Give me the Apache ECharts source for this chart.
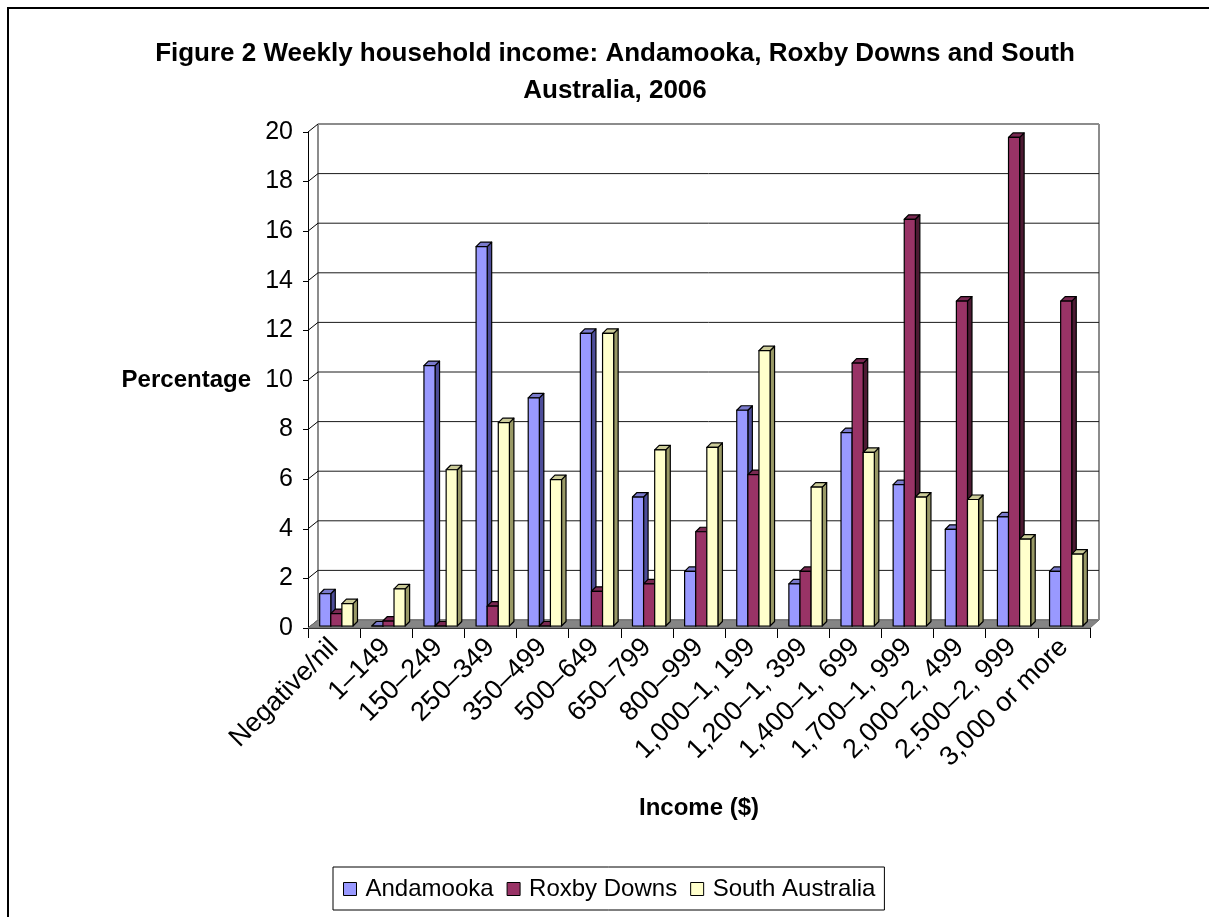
<!DOCTYPE html>
<html>
<head>
<meta charset="utf-8">
<title>Weekly household income</title>
<script src="https://cdn.jsdelivr.net/npm/echarts@6/dist/echarts.min.js"></script>
<style>
  html, body { margin: 0; padding: 0; background: #fff; }
  #chart { width: 1209px; height: 917px; }
</style>
</head>
<body>
<div id="chart"></div>
<script>
// Weekly household income bands (dollars)
const categories = ['Negative/nil', '1–149', '150–249', '250–349', '350–499', '500–649', '650–799',
  '800–999', '1,000–1, 199', '1,200–1, 399', '1,400–1, 699', '1,700–1, 999', '2,000–2, 499',
  '2,500–2, 999', '3,000 or more'];

// Share of households in each band (%)
const andamooka   = [1.3, 0.0, 10.5, 15.3, 9.2, 11.8, 5.2, 2.2, 8.7, 1.7, 7.8, 5.7, 3.9, 4.4, 2.2];
const roxbyDowns  = [0.5, 0.2, 0.0, 0.8, 0.0, 1.4, 1.7, 3.8, 6.1, 2.2, 10.6, 16.4, 13.1, 19.7, 13.1];
const southAust   = [0.9, 1.5, 6.3, 8.2, 5.9, 11.8, 7.1, 7.2, 11.1, 5.6, 7.0, 5.2, 5.1, 3.5, 2.9];

// Value axis ticks
const yTicks = [0, 2, 4, 6, 8, 10, 12, 14, 16, 18, 20];

const FONT = '"Liberation Sans", Arial, sans-serif';

// Face colours of each series: front, side, top
const palettes = [
  { name: 'Andamooka',       front: '#9999FF', side: '#4D4D99', top: '#7A7ACC' },
  { name: 'Roxby Downs',     front: '#993366', side: '#4D1A33', top: '#7A2952' },
  { name: 'South Australia', front: '#FFFFCC', side: '#999966', top: '#CCCC99' }
];
const seriesValues = [andamooka, roxbyDowns, southAust];

// Depth of the back wall relative to the front plane
const WALL_DX = 10, WALL_DY = -8;
// Depth of each column
const BAR_DX = 4.5, BAR_DY = -4.5;

function wallSeries() {
  return {
    type: 'custom',
    silent: true,
    z: 1,
    data: yTicks.map(v => [0, v]),
    encode: { x: 0, y: 1 },
    renderItem: function (params, api) {
      const cs = params.coordSys;
      const v = api.value(1);
      const y = api.coord([0, v])[1];
      const left = cs.x, right = cs.x + cs.width;
      const yTop = cs.y, yBot = cs.y + cs.height;
      const children = [];
      const isTop = v === yTicks[yTicks.length - 1];
      // back wall grid line
      children.push({
        type: 'line',
        shape: { x1: left + WALL_DX, y1: y + WALL_DY, x2: right + WALL_DX - 1, y2: y + WALL_DY },
        style: { stroke: isTop ? '#8C8C8C' : '#1A1A1A', lineWidth: isTop ? 2 : 1 }
      });
      // side wall link from the front axis to the back wall
      children.push({
        type: 'line',
        shape: { x1: left, y1: y, x2: left + WALL_DX, y2: y + WALL_DY },
        style: { stroke: '#000', lineWidth: 1 }
      });
      if (params.dataIndex === 0) {
        // floor
        children.push({
          type: 'polygon',
          shape: { points: [[left, yBot], [right, yBot], [right + WALL_DX - 1, yBot + WALL_DY], [left + WALL_DX, yBot + WALL_DY]] },
          style: { fill: '#858585', stroke: '#6E6E6E', lineWidth: 1 }
        });
        // back wall edges
        children.push({
          type: 'line',
          shape: { x1: left + WALL_DX, y1: yTop + WALL_DY, x2: left + WALL_DX, y2: yBot + WALL_DY },
          style: { stroke: '#8C8C8C', lineWidth: 2 }
        });
        children.push({
          type: 'line',
          shape: { x1: right + WALL_DX - 1, y1: yTop + WALL_DY, x2: right + WALL_DX - 1, y2: yBot + WALL_DY },
          style: { stroke: '#8C8C8C', lineWidth: 2 }
        });
      }
      return { type: 'group', children: children };
    }
  };
}

function barSeries(k) {
  const p = palettes[k];
  return {
    type: 'custom',
    name: p.name,
    z: 3,
    itemStyle: { color: p.front, borderColor: '#000', borderWidth: 1 },
    data: seriesValues[k].map((v, i) => [i, v]),
    encode: { x: 0, y: 1 },
    renderItem: function (params, api) {
      const i = api.value(0), v = api.value(1);
      const base = api.coord([i, 0]);
      const top = api.coord([i, v]);
      const band = api.size([1, 0])[0];
      const w = band * 0.213;
      const x0 = base[0] - band * 0.276 + k * w;
      const x1 = x0 + w;
      const yb = base[1] - 2, yt = top[1] - 2;
      const stroke = { stroke: '#000', lineWidth: 1.2, lineJoin: 'round' };
      return {
        type: 'group',
        children: [
          {
            type: 'polygon',
            shape: { points: [[x1, yb], [x1 + BAR_DX, yb + BAR_DY], [x1 + BAR_DX, yt + BAR_DY], [x1, yt]] },
            style: Object.assign({ fill: p.side }, stroke)
          },
          {
            type: 'polygon',
            shape: { points: [[x0, yt], [x0 + BAR_DX, yt + BAR_DY], [x1 + BAR_DX, yt + BAR_DY], [x1, yt]] },
            style: Object.assign({ fill: p.top }, stroke)
          },
          {
            type: 'rect',
            shape: { x: x0, y: yt, width: w, height: yb - yt },
            style: Object.assign({ fill: p.front }, stroke)
          }
        ]
      };
    }
  };
}

const chart = echarts.init(document.getElementById('chart'), null, { renderer: 'canvas' });

chart.setOption({
  animation: false,
  backgroundColor: '#fff',
  textStyle: { fontFamily: FONT, color: '#000' },
  title: {
    text: 'Figure 2 Weekly household income: Andamooka, Roxby Downs and South\nAustralia, 2006',
    left: 610,
    top: 30,
    textAlign: 'center',
    textStyle: { fontFamily: FONT, fontSize: 26, fontWeight: 'bold', lineHeight: 37, color: '#000' }
  },
  legend: {
    data: palettes.map(p => p.name),
    left: 333,
    top: 867,
    icon: 'rect',
    itemWidth: 13,
    itemHeight: 13,
    itemGap: 13,
    padding: [10, 9, 9, 10],
    borderColor: '#000',
    borderWidth: 1,
    itemStyle: { borderColor: '#000', borderWidth: 1 },
    textStyle: { fontFamily: FONT, fontSize: 24, color: '#000', padding: [0, 0, 0, 4] }
  },
  grid: { left: 308, top: 132, right: 119, bottom: 289, containLabel: false },
  xAxis: {
    type: 'category',
    data: categories,
    name: 'Income ($)',
    nameLocation: 'middle',
    nameGap: 168,
    nameTextStyle: { fontFamily: FONT, fontSize: 24, fontWeight: 'bold', color: '#000' },
    axisLine: { show: true, lineStyle: { color: '#000', width: 1 } },
    axisTick: { show: true, length: 10, lineStyle: { color: '#000' } },
    axisLabel: { interval: 0, rotate: 45, margin: 15, fontFamily: FONT, fontSize: 27, color: '#000' },
    splitLine: { show: false }
  },
  yAxis: {
    type: 'value',
    min: 0,
    max: 20,
    interval: 2,
    name: 'Percentage',
    nameLocation: 'middle',
    nameRotate: 0,
    nameGap: 57,
    nameTextStyle: { fontFamily: FONT, fontSize: 24, fontWeight: 'bold', color: '#000', align: 'right' },
    axisLine: { show: true, lineStyle: { color: '#000', width: 1 } },
    axisTick: { show: true, length: 5, lineStyle: { color: '#000' } },
    axisLabel: { margin: 15, fontFamily: FONT, fontSize: 25, color: '#000' },
    splitLine: { show: false }
  },
  graphic: [
    {
      type: 'rect',
      silent: true,
      shape: { x: 8, y: 8, width: 1400, height: 1100 },
      style: { fill: null, stroke: '#000', lineWidth: 2 }
    }
  ],
  series: [wallSeries(), barSeries(0), barSeries(1), barSeries(2)]
});
</script>
</body>
</html>
